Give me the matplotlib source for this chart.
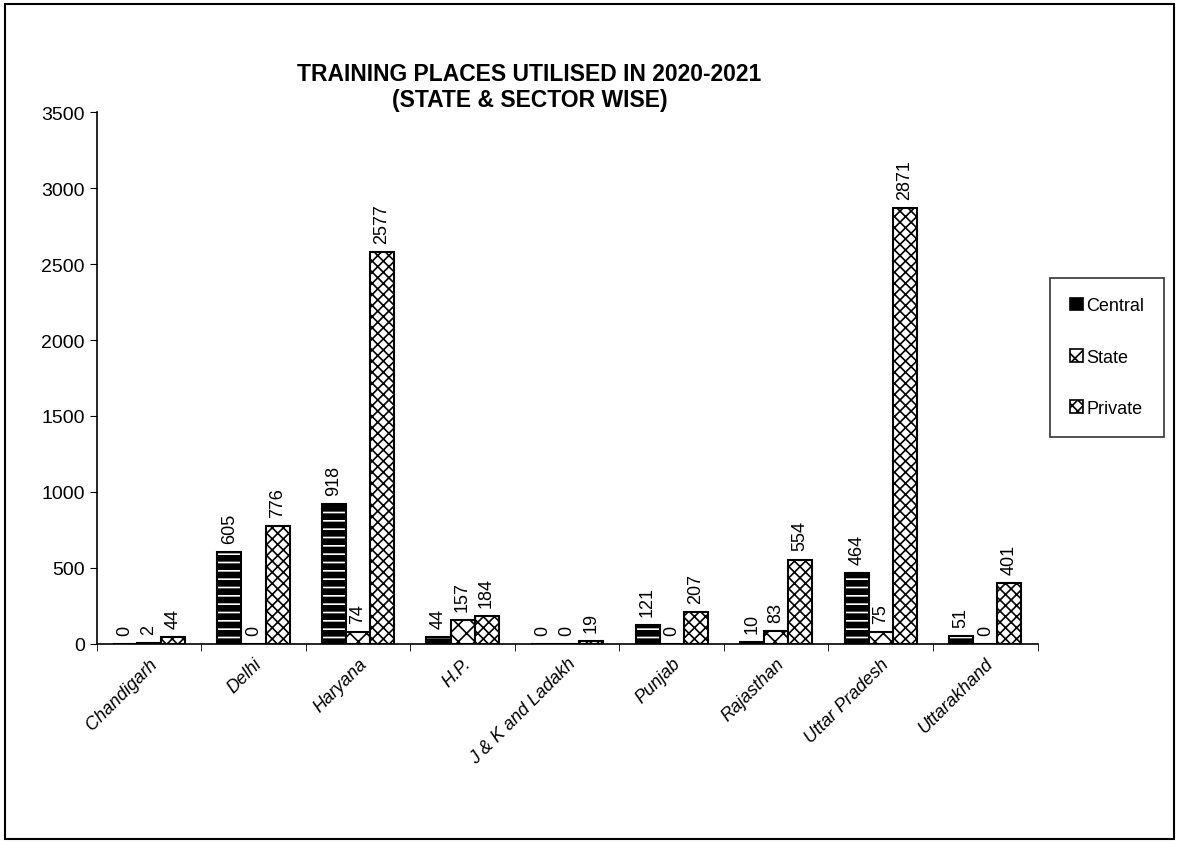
import matplotlib
matplotlib.use("Agg")
import matplotlib.pyplot as plt
import numpy as np
from matplotlib.patches import Rectangle, Patch

plt.rcParams['font.family'] = ['Liberation Sans', 'DejaVu Sans']
plt.rcParams['hatch.linewidth'] = 1.2

states = ["Chandigarh", "Delhi", "Haryana", "H.P.", "J & K and Ladakh",
          "Punjab", "Rajasthan", "Uttar Pradesh", "Uttarakhand"]
central = [0, 605, 918, 44, 0, 121, 10, 464, 51]
state = [2, 0, 74, 157, 0, 0, 83, 75, 0]
private = [44, 776, 2577, 184, 19, 207, 554, 2871, 401]
series_names = ["Central", "State", "Private"]
yticks = [0, 500, 1000, 1500, 2000, 2500, 3000, 3500]

fig = plt.figure(figsize=(11.79, 8.45), dpi=100)
fig.patches.append(Rectangle((0.004, 0.006), 0.992, 0.988, transform=fig.transFigure,
                             fill=False, edgecolor='black', linewidth=1.5))
ax = fig.add_axes([0.082, 0.237, 0.798, 0.629])

x = np.arange(len(states))
w = 0.23
styles = [dict(facecolor='black', hatch='--', edgecolor='white'),
          dict(facecolor='white', hatch='xx', edgecolor='black'),
          dict(facecolor='white', hatch='xxx', edgecolor='black')]
data = [central, state, private]
offsets = [-w, 0, w]
for vals, off, st, name in zip(data, offsets, styles, series_names):
    ax.bar(x + off, vals, w, linewidth=0, **st)
    ax.bar(x + off, vals, w, facecolor='none', edgecolor='black', linewidth=1.5)
    for xi, v in zip(x + off, vals):
        ax.text(xi, v + 60, str(v), rotation=90, ha='center', va='bottom', fontsize=13)

ax.set_xlim(-0.5, len(states) - 0.5)
ax.set_ylim(0, 3500)
ax.set_yticks(yticks)
ax.set_yticklabels([str(t) for t in yticks], fontsize=14)
ax.set_xticks(x)
ax.set_xticklabels(states, rotation=45, ha='right', rotation_mode='anchor',
                   fontsize=13, style='italic')
ax.tick_params(axis='x', length=0, pad=8)
ax.set_xticks(np.arange(-0.5, len(states)), minor=True)
ax.tick_params(axis='x', which='minor', length=5, direction='out')
ax.tick_params(axis='y', length=5, direction='out')
ax.spines['top'].set_visible(False)
ax.spines['right'].set_visible(False)
ax.spines['left'].set_linewidth(1.2)
ax.spines['bottom'].set_linewidth(1.2)

fig.text(0.449, 0.925, "TRAINING PLACES UTILISED IN 2020-2021\n(STATE & SECTOR WISE)",
         ha='center', va='top', fontsize=16.5, fontweight='bold', linespacing=1.15)

handles = [Patch(facecolor='black', edgecolor='black', linewidth=1.2),
           Patch(facecolor='white', edgecolor='black', hatch='xx', linewidth=1.2),
           Patch(facecolor='white', edgecolor='black', hatch='xxx', linewidth=1.2)]
leg = fig.legend(handles, series_names, loc='center left', bbox_to_anchor=(0.891, 0.576),
                 fontsize=13, frameon=True, fancybox=False, edgecolor='black',
                 handlelength=0.7, handleheight=0.7, handletextpad=0.2,
                 labelspacing=1.9, borderpad=1.1, borderaxespad=0)
leg.get_frame().set_linewidth(1.2)

fig.savefig("out.png", dpi=100)
